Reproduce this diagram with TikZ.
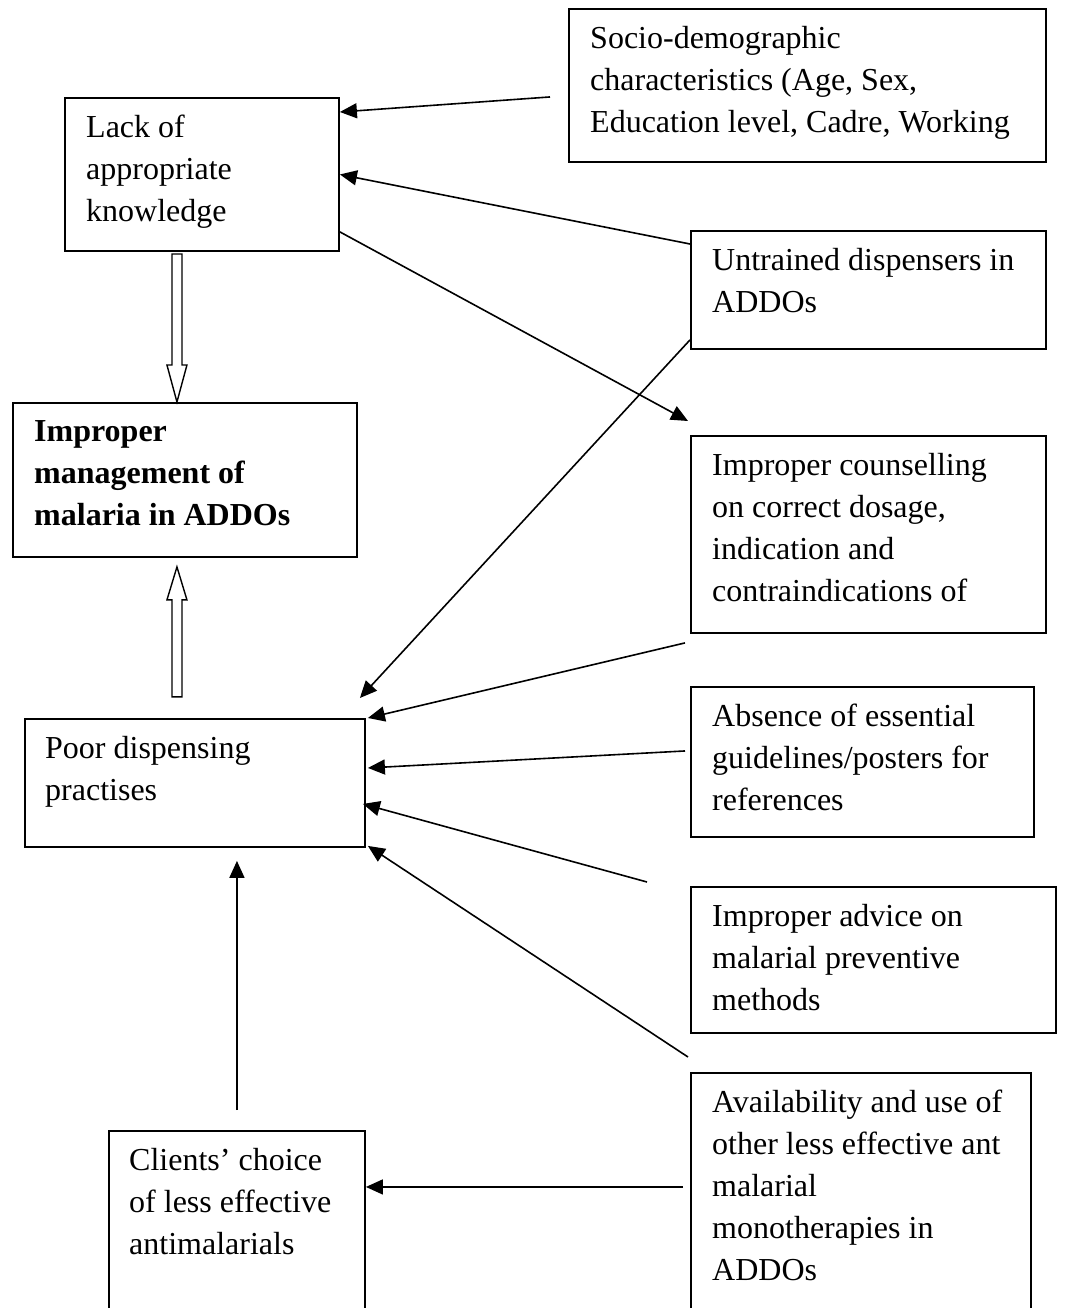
\documentclass[tikz,border=0pt]{standalone}
\usepackage{fontspec}
\setmainfont{Liberation Serif}
\usetikzlibrary{arrows.meta,calc}

\begin{document}
\begin{tikzpicture}[x = 1pt, y = -1pt,
                    cbox/.style = {draw, line width = 1.9pt, anchor = north west, inner sep = 0pt},
                    txt/.style = {anchor = north west, inner sep = 0pt, align = left,
                                  font = \fontsize{32}{42}\selectfont},
                    link/.style = {line width = 1.6pt, -{Triangle[length = 17pt, width = 15pt]}},
                    hollow/.style = {draw, line width = 1.4pt, fill = white}]
  \clip (0, 0) rectangle (1065, 1308);

  \node [cbox, minimum width = 477pt, minimum height = 153pt] (socio) at (568, 8){};
  \node [cbox, minimum width = 274pt, minimum height = 153pt] (lack) at (64, 97){};
  \node [cbox, minimum width = 355pt, minimum height = 118pt] (untr) at (690, 230){};
  \node [cbox, minimum width = 344pt, minimum height = 154pt] (mgmt) at (12, 402){};
  \node [cbox, minimum width = 355pt, minimum height = 197pt] (couns) at (690, 435){};
  \node [cbox, minimum width = 340pt, minimum height = 128pt] (poor) at (24, 718){};
  \node [cbox, minimum width = 343pt, minimum height = 150pt] (abs) at (690, 686){};
  \node [cbox, minimum width = 365pt, minimum height = 146pt] (adv) at (690, 886){};
  \node [cbox, minimum width = 340pt, minimum height = 240pt] (avail) at (690, 1072){};
  \node [cbox, minimum width = 256pt, minimum height = 182pt] (clients) at (108, 1130){};

  \node [txt] (socio-t) at ($(socio.north west) + (22, 18)$){Socio-demographic\\characteristics (Age, Sex,\\Education level, Cadre, Working};
  \node [txt] (lack-t) at ($(lack.north west) + (22, 18)$){Lack of\\appropriate\\knowledge};
  \node [txt] (untr-t) at ($(untr.north west) + (22, 18)$){Untrained dispensers in\\ADDOs};
  \node [txt, font = \fontsize{32}{42}\selectfont\bfseries] (mgmt-t) at ($(mgmt.north west) + (22, 18)$){Improper\\management of\\malaria in ADDOs};
  \node [txt] (couns-t) at ($(couns.north west) + (22, 18)$){Improper counselling\\on correct dosage,\\indication and\\contraindications of};
  \node [txt] (poor-t) at ($(poor.north west) + (21, 18)$){Poor dispensing\\practises};
  \node [txt] (abs-t) at ($(abs.north west) + (22, 18)$){Absence of essential\\guidelines/posters for\\references};
  \node [txt] (adv-t) at ($(adv.north west) + (22, 18)$){Improper advice on\\malarial preventive\\methods};
  \node [txt] (avail-t) at ($(avail.north west) + (22, 18)$){Availability and use of\\other less effective ant\\malarial\\monotherapies in\\ADDOs};
  \node [txt] (clients-t) at ($(clients.north west) + (21, 18)$){Clients’ choice\\of less effective\\antimalarials};

  \draw [link] ([xshift = -18pt, yshift = -11.5pt]socio.west) -- ([yshift = -15pt]lack.north east);
  \draw [link] ([yshift = -14pt]untr.north west) -- (lack.east);
  \draw [link] ([yshift = 20pt]lack.south east) -- ([xshift = -2pt, yshift = 14pt]couns.north west);
  \draw [link] ([yshift = 10pt]untr.south west) -- ([xshift = -6pt, yshift = 20pt]poor.north east);
  \draw [link] ([xshift = -5pt, yshift = -9pt]couns.south west) -- ([xshift = 2pt]poor.north east);
  \draw [link] ([xshift = -5pt, yshift = 11pt]abs.west) -- ([xshift = 2pt, yshift = 15pt]poor.east);
  \draw [link] ([xshift = -43pt, yshift = 4pt]adv.north west) -- ([xshift = -3pt, yshift = -21pt]poor.east);
  \draw [link] ([xshift = -2pt, yshift = 15pt]avail.north west) -- ([xshift = 2pt, yshift = 2pt]poor.south east);
  \draw [link] ($(clients.north) + (0, -20)$) -- ($(clients.north |- poor.south) + (0, 13)$);
  \coordinate (avail-out) at ([xshift = -7pt, yshift = 6pt]avail.west);
  \draw [link] (avail-out) -- (avail-out -| clients.east);

  \draw [hollow] ($(mgmt.north) + (-8, 0)$) -- ++(-10, -37) -- ++(5, 0) -- ++(0, -111) -- ++(10, 0) -- ++(0, 111) -- ++(5, 0) -- cycle;
  \draw [hollow] ($(mgmt.south) + (-8, 9)$) -- ++(-10, 33) -- ++(5, 0) -- ++(0, 97) -- ++(10, 0) -- ++(0, -97) -- ++(5, 0) -- cycle;
\end{tikzpicture}
\end{document}
